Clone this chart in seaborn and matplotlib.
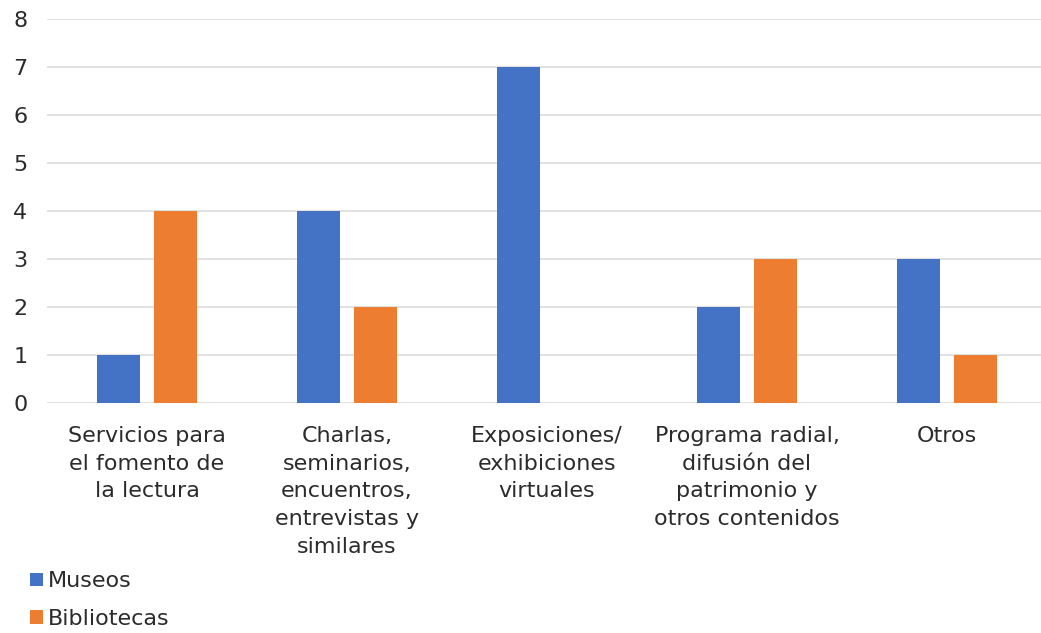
import matplotlib
matplotlib.use("Agg")
import matplotlib.pyplot as plt
import seaborn as sns
import pandas as pd

categorias = [
    "Servicios para\nel fomento de\nla lectura",
    "Charlas,\nseminarios,\nencuentros,\nentrevistas y\nsimilares",
    "Exposiciones/\nexhibiciones\nvirtuales",
    "Programa radial,\ndifusión del\npatrimonio y\notros contenidos",
    "Otros",
]
museos = [1, 4, 7, 2, 3]
bibliotecas = [4, 2, 0, 3, 1]
series = ["Museos", "Bibliotecas"]
colores = ["#4472C4", "#ED7D31"]
y_ticks = [0, 1, 2, 3, 4, 5, 6, 7, 8]

df = pd.DataFrame({
    "categoria": categorias * 2,
    "serie": [series[0]] * len(categorias) + [series[1]] * len(categorias),
    "valor": museos + bibliotecas,
})

sns.set_theme(style="white")
plt.rcParams["font.family"] = ["DejaVu Sans"]
texto = "#2B2B2B"

fig = plt.figure(figsize=(10.41, 6.33), dpi=100)
ax = fig.add_axes([47 / 1041, 1 - 403 / 633, (1041 - 47) / 1041, (403 - 19) / 633])

sns.barplot(
    data=df, x="categoria", y="valor", hue="serie",
    palette=colores, width=0.57, gap=0.23, ax=ax,
    saturation=1, legend=True, linewidth=0,
)

ax.set_ylim(0, 8)
ax.set_xlim(-0.5, 4.47)
ax.set_yticks(y_ticks)
ax.set_xlabel("")
ax.set_ylabel("")
ax.yaxis.grid(True, color="#D9D9D9", linewidth=1.1)
ax.set_axisbelow(True)
for s in ax.spines.values():
    s.set_visible(False)
ax.tick_params(axis="y", length=0, pad=14, labelsize=16, labelcolor=texto)
ax.tick_params(axis="x", length=0, pad=16.5, labelsize=16, labelcolor=texto)
for lbl in ax.get_xticklabels():
    lbl.set_linespacing(1.48)

handles, labels = ax.get_legend_handles_labels()
ax.get_legend().remove()
fig.legend(
    handles, labels, loc="lower left", bbox_to_anchor=(0.010, -0.025),
    frameon=False, fontsize=16, labelcolor=texto,
    handlelength=0.55, handleheight=0.55, handletextpad=0.25,
    labelspacing=0.78,
)

fig.savefig("out.png", dpi=100)
